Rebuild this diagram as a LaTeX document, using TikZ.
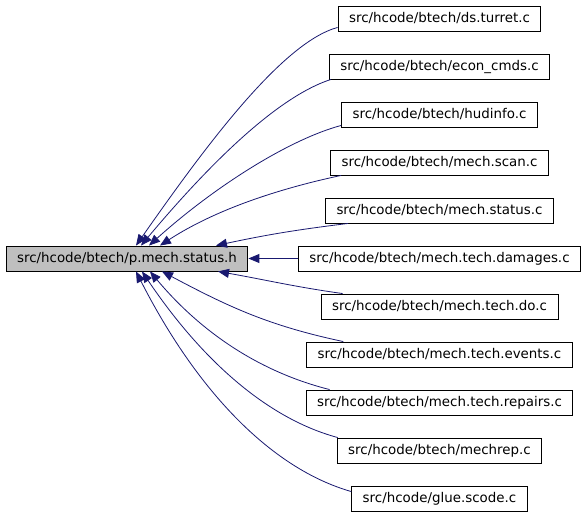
\documentclass[tikz,border=0pt]{standalone}
\usepackage{fontspec}
\setmainfont{DejaVu Sans}
\usetikzlibrary{arrows.meta}
\definecolor{edgeblue}{RGB}{25,25,112}
\definecolor{headgray}{RGB}{191,191,191}

\begin{document}
\begin{tikzpicture}[x=1pt,y=1pt,
  file/.style={draw=black, line width=0.9pt, rectangle, minimum height=25pt, inner xsep=11pt, inner ysep=0pt, font=\fontsize{13.4}{16}\selectfont},
  dep/.style={draw=edgeblue, line width=0.8pt, -{Triangle[length=11pt,width=9pt]}, fill=none}]
\useasboundingbox (0,0) rectangle (587,515);
\node[file, fill=headgray] (header) at (127,256.5) {src/hcode/btech/p.mech.status.h};
\node[file] (turret) at (439.5,496.5) {src/hcode/btech/ds.turret.c};
\node[file] (econ) at (439.5,448.5) {src/hcode/btech/econ\_cmds.c};
\node[file] (hudinfo) at (439.5,400.5) {src/hcode/btech/hudinfo.c};
\node[file] (scan) at (439.5,352.5) {src/hcode/btech/mech.scan.c};
\node[file] (status) at (439.5,304.5) {src/hcode/btech/mech.status.c};
\node[file] (damages) at (439.5,256.5) {src/hcode/btech/mech.tech.damages.c};
\node[file] (techdo) at (439.5,208.5) {src/hcode/btech/mech.tech.do.c};
\node[file] (events) at (439.5,160.5) {src/hcode/btech/mech.tech.events.c};
\node[file] (repairs) at (439.5,112.5) {src/hcode/btech/mech.tech.repairs.c};
\node[file] (mechrep) at (439.5,64.5) {src/hcode/btech/mechrep.c};
\node[file] (scode) at (439.5,16.5) {src/hcode/glue.scode.c};
\draw[dep] ([yshift=4pt]turret.south west) to[out=195, in=55, out looseness=0.5, in looseness=1] ([xshift=9pt]header.north);
\draw[dep] ([xshift=2pt]econ.south west) to[out=198, in=50, out looseness=0.6, in looseness=1] ([xshift=14pt]header.north);
\draw[dep] ([yshift=2pt]hudinfo.south west) to[out=195, in=42, out looseness=0.6, in looseness=1] ([xshift=22pt]header.north);
\draw[dep] ([xshift=11pt]scan.south west) to[out=192, in=33, out looseness=0.6, in looseness=1] ([xshift=33pt]header.north);
\draw[dep] ([xshift=23pt]status.south west) to[out=187, in=12] ([xshift=89pt]header.north);
\draw[dep] (damages.west) -- (header.east);
\draw[dep] ([xshift=22pt]techdo.north west) to[out=172, in=-10] ([xshift=91pt]header.south);
\draw[dep] ([xshift=37pt]events.north west) to[out=168, in=-28] ([xshift=35pt]header.south);
\draw[dep] ([xshift=24pt]repairs.north west) to[out=166, in=-50, out looseness=0.7, in looseness=1.1] ([xshift=23pt]header.south);
\draw[dep] ([xshift=1pt]mechrep.north west) to[out=165, in=-56, out looseness=0.7, in looseness=1.1] ([xshift=15pt]header.south);
\draw[dep] ([yshift=-6pt]scode.north west) to[out=164, in=-63, out looseness=0.7, in looseness=1.1] ([xshift=9pt]header.south);
\end{tikzpicture}
\end{document}
